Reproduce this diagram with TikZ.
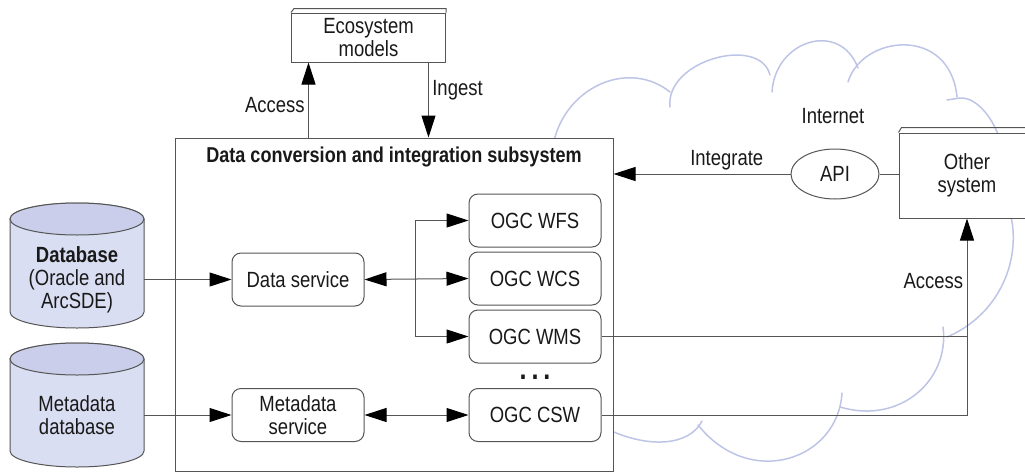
\documentclass[tikz,border=0pt]{standalone}
\usepackage{fontspec}
\setmainfont[FakeStretch=0.84]{Liberation Sans}
\usetikzlibrary{arrows.meta,shapes.geometric}
\definecolor{cloudblue}{RGB}{190,196,230}
\definecolor{dbbody}{RGB}{218,222,242}
\definecolor{dbtop}{RGB}{202,206,234}
\definecolor{edge}{RGB}{85,85,85}
\begin{document}
\begin{tikzpicture}[
    x=1pt, y=-1pt,
    node distance=58pt,
    txt/.style={font=\fontsize{22}{23}\selectfont, text=black!90, align=center},
    svc/.style={txt, rectangle, draw=edge, line width=1pt, rounded corners=9pt, fill=white, minimum width=132pt, minimum height=53pt, inner sep=2pt},
    sysbox/.style={txt, rectangle, draw=edge, line width=1pt, fill=white},
    tip/.tip={Triangle[length=22pt, width=14pt, color=black]},
    arrow/.style={-tip, draw=edge, line width=1pt},
    both/.style={tip-tip, draw=edge, line width=1pt},
    line/.style={draw=edge, line width=1pt},
    cloud/.style={draw=cloudblue, line width=1.5pt, line cap=round}
]
    \useasboundingbox (0,0) rectangle (1025,474);

    % Internet cloud
    \draw[cloud] (552,145) -- (555,137) .. controls (570,85) and (630,60) .. (670,92);
    \draw[cloud] (670,107) .. controls (665,60) and (760,35) .. (770,75);
    \draw[cloud] (772,92) .. controls (775,40) and (840,20) .. (858,68);
    \draw[cloud] (848,82) .. controls (862,35) and (950,25) .. (957,97);
    \draw[cloud] (947,100) -- (960,98) .. controls (975,97) and (992,115) .. (1000,140);
    \draw[cloud] (1005,200) .. controls (1025,240) and (1010,310) .. (947,337);
    \draw[cloud] (943,327) .. controls (950,380) and (900,425) .. (840,407);
    \draw[cloud] (842,393) .. controls (838,460) and (750,490) .. (698,425);
    \draw[cloud] (702,421) .. controls (690,445) and (650,450) .. (605,428);

    % Databases
    \filldraw[draw=edge, fill=dbbody, line width=1pt] (10,219) -- (10,312) arc[start angle=180, end angle=360, x radius=67pt, y radius=16pt] -- (144,219) arc[start angle=0, end angle=180, x radius=67pt, y radius=16pt] -- cycle;
    \filldraw[draw=edge, fill=dbtop, line width=1pt] (77,219) ellipse[x radius=67pt, y radius=16pt];
    \filldraw[draw=edge, fill=dbbody, line width=1pt] (10,359) -- (10,451) arc[start angle=180, end angle=360, x radius=67pt, y radius=16pt] -- (144,359) arc[start angle=0, end angle=180, x radius=67pt, y radius=16pt] -- cycle;
    \filldraw[draw=edge, fill=dbtop, line width=1pt] (77,359) ellipse[x radius=67pt, y radius=16pt];
    \node[txt, minimum width=134pt] (db) at (77,279.5) {\textbf{Database}\\(Oracle and\\ArcSDE)};
    \node[txt, minimum width=134pt] (mdb) at (77,415) {Metadata\\database};

    % Subsystem
    \node[sysbox, minimum width=438pt, minimum height=333pt] (sub) at (394,304.5) {};
    \node[txt, font=\fontsize{21.5}{23}\selectfont\bfseries] (subtitle) at (394,157) {Data conversion and integration subsystem};
    \node[svc] (dsvc) at (298,279.5) {Data service};
    \node[svc] (msvc) at (298,415) {Metadata\\service};
    \node[svc] (wfs) at (535,220.5) {OGC WFS};
    \node[svc, below of=wfs] (wcs) {OGC WCS};
    \node[svc, below of=wcs] (wms) {OGC WMS};
    \node[svc] (csw) at (535,415) {OGC CSW};
    \node[txt, font=\fontsize{30}{30}\selectfont\bfseries, anchor=base] (dots) at (535,379) {.\,.\,.};

    % Other parts
    \node[sysbox, minimum width=154pt, minimum height=49pt] (eco) at (368.5,37.5) {Ecosystem\\models};
    \draw[line] (eco.north west) -- ++(3,-4) -| (eco.north east);
    \node[sysbox, minimum width=136pt, minimum height=85pt] (other) at (967,175.5) {Other\\system};
    \draw[line] (other.north west) -- ++(3,-5) -| (other.north east);
    \node[txt, ellipse, draw=edge, line width=1pt, fill=white, minimum width=88pt, minimum height=50pt, inner sep=0pt] (api) at (835,174) {API};
    \node[txt] (inet) at (833,116) {Internet};

    % Flow arrows
    \draw[arrow] ([xshift=-60pt]eco.south |- sub.north) -- node[txt, left, pos=0.43] {Access} ([xshift=-60pt]eco.south);
    \draw[arrow] ([xshift=60pt]eco.south) -- node[txt, right, pos=0.37] {Ingest} ([xshift=60pt]eco.south |- sub.north);
    \draw[arrow] (db.east) -- (db.east -| dsvc.west);
    \draw[arrow] (mdb.east) -- (mdb.east -| msvc.west);
    \coordinate (fork) at ([xshift=51pt]dsvc.east);
    \draw[both] (dsvc.east) -- (wcs.west);
    \draw[arrow] (fork) |- (wfs.west);
    \draw[arrow] (fork) |- (wms.west);
    \draw[both] (msvc.east) -- (csw.west);
    \draw[line] (api.east) -- (api.east -| other.west);
    \draw[arrow] (api.west) -- node[txt, above, pos=0.36] {Integrate} (api.west -| sub.east);
    \draw[line] (wms.east) -- (wms.east -| other.south);
    \draw[arrow] (csw.east) -| node[txt, left, pos=0.84] {Access} (other.south);
\end{tikzpicture}
\end{document}
